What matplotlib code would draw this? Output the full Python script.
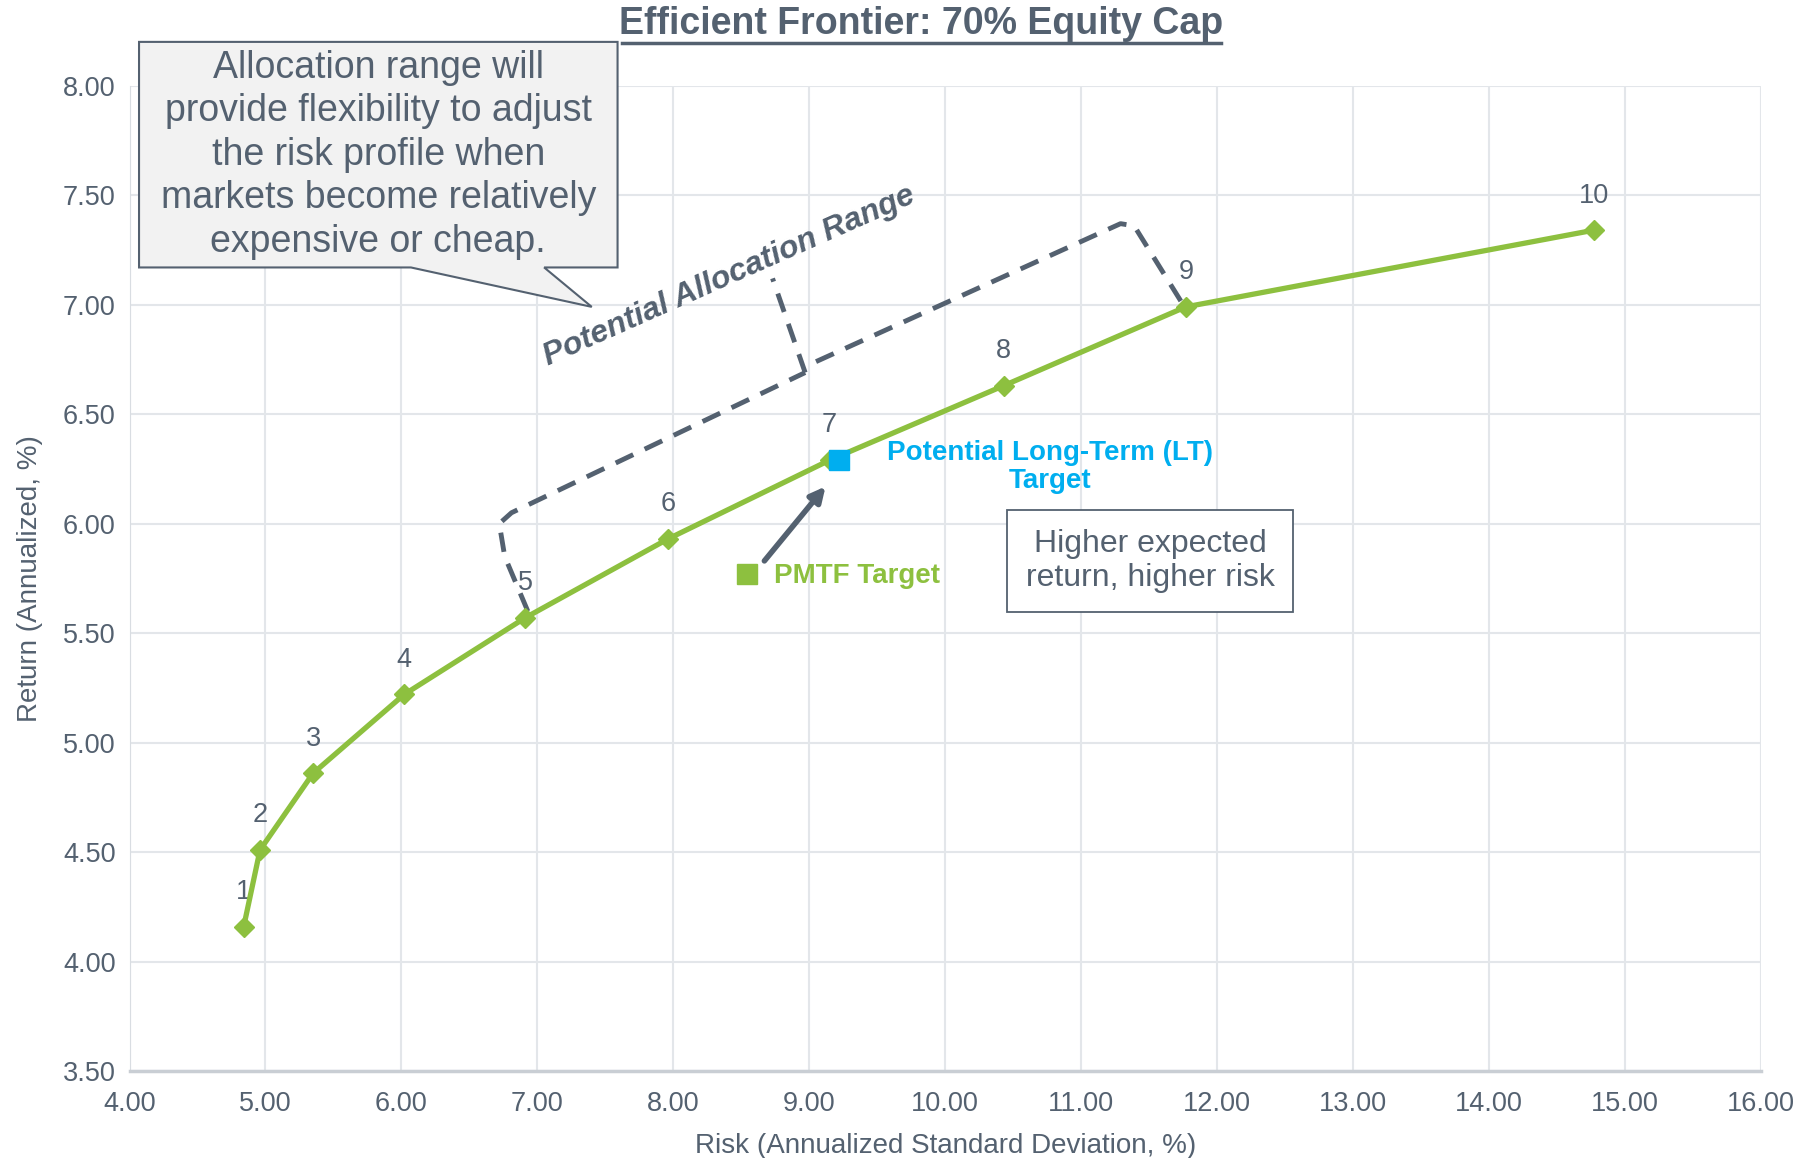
import matplotlib
matplotlib.use('Agg')
import matplotlib.pyplot as plt
from matplotlib.patches import Polygon

plt.rcParams['font.family'] = ['Liberation Sans', 'DejaVu Sans']

# efficient frontier points
labels = ['1', '2', '3', '4', '5', '6', '7', '8', '9', '10']
risk = [4.84, 4.96, 5.35, 6.02, 6.91, 7.96, 9.15, 10.43, 11.77, 14.77]
ret = [4.16, 4.51, 4.86, 5.22, 5.57, 5.93, 6.29, 6.63, 6.99, 7.34]

# targets
lt_target = (9.22, 6.29)
pmtf_target = (8.54, 5.77)

# allocation range bracket
brk_left_x = [6.93, 6.76, 6.72, 6.81, 8.97]
brk_left_y = [5.60, 5.85, 6.00, 6.05, 6.69]
brk_tip_x = [8.97, 8.73]
brk_tip_y = [6.69, 7.12]
brk_right_x = [9.05, 11.29, 11.39, 11.74]
brk_right_y = [6.74, 7.37, 7.36, 7.01]

xticks = [4, 5, 6, 7, 8, 9, 10, 11, 12, 13, 14, 15, 16]
yticks = [3.5, 4.0, 4.5, 5.0, 5.5, 6.0, 6.5, 7.0, 7.5, 8.0]

txt = '#546170'
green = '#8DC03F'
blue = '#00AEEF'
grid = '#E3E6EA'

fig = plt.figure(figsize=(18.14, 11.58), dpi=100)
ax = fig.add_axes([0.0714, 0.075, 0.8993, 0.851])

ax.plot(risk, ret, color=green, lw=3.8, marker='D', ms=10.5, zorder=4)
for l, x, y in zip(labels, risk, ret):
    ax.annotate(l, (x, y), xytext=(0, 25), textcoords='offset points',
                ha='center', va='center', fontsize=19.5, color=txt)

ax.plot([lt_target[0]], [lt_target[1]], marker='s', ms=15, color=blue, ls='none', zorder=5)
ax.plot([pmtf_target[0]], [pmtf_target[1]], marker='s', ms=15, color=green, ls='none', zorder=5)
ax.text(10.77, 6.26, 'Potential Long-Term (LT)\nTarget', color=blue, fontsize=20,
        fontweight='bold', ha='center', va='center', linespacing=1.1)
ax.text(8.74, 5.76, 'PMTF Target', color=green, fontsize=20, fontweight='bold',
        ha='left', va='center')
ax.annotate('', xy=(9.12, 6.17), xytext=(8.67, 5.83),
            arrowprops=dict(arrowstyle='-|>', color=txt, lw=4, mutation_scale=22,
                            shrinkA=0, shrinkB=0))

dash = dict(color=txt, lw=3.5, ls=(0, (4, 2.6)), zorder=3)
ax.plot(brk_left_x, brk_left_y, **dash)
ax.plot(brk_tip_x, brk_tip_y, **dash)
ax.plot(brk_right_x, brk_right_y, **dash)
ax.text(8.41, 7.13, 'Potential Allocation Range', color=txt, fontsize=23,
        fontweight='bold', fontstyle='italic', rotation=24,
        ha='center', va='center', rotation_mode='anchor')

# callout box with pointer
callout = Polygon([(4.07, 8.20), (7.59, 8.20), (7.59, 7.17), (7.05, 7.17),
                   (7.40, 6.99), (6.07, 7.17), (4.07, 7.17)],
                  closed=True, facecolor='#F2F2F2', edgecolor=txt, lw=1.5,
                  clip_on=False, zorder=6)
ax.add_patch(callout)
ax.text(5.83, 7.685, 'Allocation range will\nprovide flexibility to adjust\nthe risk profile when\n'
        'markets become relatively\nexpensive or cheap.', color=txt, fontsize=27,
        ha='center', va='center', linespacing=1.27, zorder=7, clip_on=False)

ax.text(11.51, 5.83, 'Higher expected\nreturn, higher risk', color=txt, fontsize=23,
        ha='center', va='center', linespacing=1.2,
        bbox=dict(boxstyle='square,pad=0.58', facecolor='white', edgecolor=txt, lw=1.3))

ax.set_xlim(4, 16)
ax.set_ylim(3.5, 8.0)
ax.set_xticks(xticks)
ax.set_yticks(yticks)
ax.set_xticklabels(['%.2f' % v for v in xticks])
ax.set_yticklabels(['%.2f' % v for v in yticks])
ax.tick_params(length=0, labelsize=19.5, labelcolor=txt, pad=10)
ax.tick_params(axis='x', pad=14)
ax.grid(True, color=grid, lw=1.5)
ax.set_axisbelow(True)
for s in ['top', 'right']:
    ax.spines[s].set_visible(False)
ax.spines['left'].set_color('#D9DDE2')
ax.spines['bottom'].set_color('#C9CED4')
ax.spines['bottom'].set_linewidth(2.5)

ax.set_xlabel('Risk (Annualized Standard Deviation, %)', fontsize=20, color=txt, labelpad=12)
ax.set_ylabel('Return (Annualized, %)', fontsize=20, color=txt, labelpad=14)

fig.text(0.508, 0.979, 'Efficient Frontier: 70% Equity Cap', ha='center', va='center',
         fontsize=27, fontweight='bold', color=txt)
fig.add_artist(plt.Line2D([0.343, 0.673], [0.9625, 0.9625], color=txt, lw=2.5))

fig.savefig('out.png', dpi=100)
